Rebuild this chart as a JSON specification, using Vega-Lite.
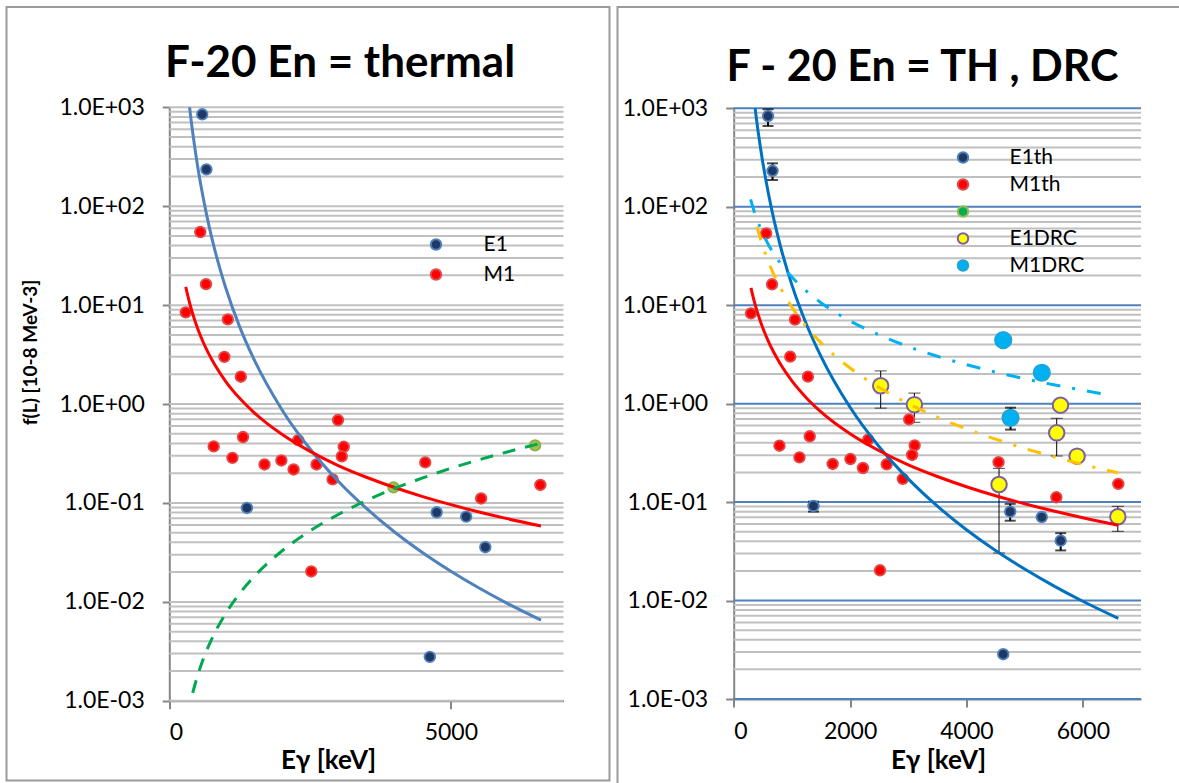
{
  "$schema": "https://vega.github.io/schema/vega-lite/v6.json",
  "background": "white",
  "padding": {"left": 5.5, "top": 6, "right": 0, "bottom": 0},
  "spacing": 6,
  "config": {
    "font": "Lato, 'DejaVu Sans'",
    "view": {"stroke": "#9b9b9b", "strokeWidth": 2},
    "axis": {
      "labelFont": "Lato, 'DejaVu Sans'",
      "titleFont": "Lato, 'DejaVu Sans'",
      "labelColor": "#000000",
      "titleColor": "#000000",
      "domainColor": "#868686",
      "tickColor": "#868686",
      "domainWidth": 2,
      "tickWidth": 2,
      "grid": false,
      "labelFontSize": 23,
      "titleFontWeight": "bold"
    },
    "legend": {
      "labelFont": "Lato, 'DejaVu Sans'",
      "labelFontSize": 20,
      "labelColor": "#000000",
      "symbolType": "circle",
      "symbolSize": 100,
      "symbolStrokeWidth": 2
    },
    "title": {
      "font": "Lato, 'DejaVu Sans'",
      "fontSize": 44,
      "fontWeight": "bold",
      "color": "#000000",
      "anchor": "middle",
      "frame": "group"
    }
  },
  "datasets": {
    "grid": [
      {"v": 0.001, "major": true}, {"v": 0.002, "major": false}, {"v": 0.003, "major": false}, {"v": 0.004, "major": false}, {"v": 0.005, "major": false}, {"v": 0.006, "major": false}, {"v": 0.007, "major": false}, {"v": 0.008, "major": false}, {"v": 0.009, "major": false},
      {"v": 0.01, "major": true}, {"v": 0.02, "major": false}, {"v": 0.03, "major": false}, {"v": 0.04, "major": false}, {"v": 0.05, "major": false}, {"v": 0.06, "major": false}, {"v": 0.07, "major": false}, {"v": 0.08, "major": false}, {"v": 0.09, "major": false},
      {"v": 0.1, "major": true}, {"v": 0.2, "major": false}, {"v": 0.3, "major": false}, {"v": 0.4, "major": false}, {"v": 0.5, "major": false}, {"v": 0.6, "major": false}, {"v": 0.7, "major": false}, {"v": 0.8, "major": false}, {"v": 0.9, "major": false},
      {"v": 1, "major": true}, {"v": 2, "major": false}, {"v": 3, "major": false}, {"v": 4, "major": false}, {"v": 5, "major": false}, {"v": 6, "major": false}, {"v": 7, "major": false}, {"v": 8, "major": false}, {"v": 9, "major": false},
      {"v": 10, "major": true}, {"v": 20, "major": false}, {"v": 30, "major": false}, {"v": 40, "major": false}, {"v": 50, "major": false}, {"v": 60, "major": false}, {"v": 70, "major": false}, {"v": 80, "major": false}, {"v": 90, "major": false},
      {"v": 100, "major": true}, {"v": 200, "major": false}, {"v": 300, "major": false}, {"v": 400, "major": false}, {"v": 500, "major": false}, {"v": 600, "major": false}, {"v": 700, "major": false}, {"v": 800, "major": false}, {"v": 900, "major": false},
      {"v": 1000, "major": true}
    ],
    "thL": [
      {"E": 585, "f": 850, "s": "E1"}, {"E": 659, "f": 236, "s": "E1"}, {"E": 1379, "f": 0.089, "s": "E1"},
      {"E": 4748, "f": 0.0805, "s": "E1"}, {"E": 5272, "f": 0.0728, "s": "E1"}, {"E": 5612, "f": 0.0357, "s": "E1"},
      {"E": 4626, "f": 0.00278, "s": "E1"},
      {"E": 292, "f": 8.45, "s": "M1"}, {"E": 550, "f": 54.8, "s": "M1"}, {"E": 652, "f": 16.3, "s": "M1"},
      {"E": 1039, "f": 7.18, "s": "M1"}, {"E": 978, "f": 3.0, "s": "M1"}, {"E": 1270, "f": 1.89, "s": "M1"},
      {"E": 788, "f": 0.373, "s": "M1"}, {"E": 1309, "f": 0.464, "s": "M1"}, {"E": 1121, "f": 0.286, "s": "M1"},
      {"E": 1691, "f": 0.245, "s": "M1"}, {"E": 1990, "f": 0.269, "s": "M1"}, {"E": 2207, "f": 0.218, "s": "M1"},
      {"E": 2289, "f": 0.432, "s": "M1"}, {"E": 2615, "f": 0.245, "s": "M1"}, {"E": 2900, "f": 0.173, "s": "M1"},
      {"E": 2996, "f": 0.689, "s": "M1"}, {"E": 3098, "f": 0.37, "s": "M1"}, {"E": 3063, "f": 0.296, "s": "M1"},
      {"E": 2521, "f": 0.0203, "s": "M1"}, {"E": 4545, "f": 0.257, "s": "M1"}, {"E": 5537, "f": 0.111, "s": "M1"},
      {"E": 6589, "f": 0.152, "s": "M1"}
    ],
    "greenL": [
      {"E": 3981, "f": 0.1436}, {"E": 6495, "f": 0.382}
    ],
    "blueL": [
      {"E": 360, "f": 1000}, {"E": 380, "f": 801}, {"E": 400, "f": 649}, {"E": 450, "f": 400}, {"E": 500, "f": 260},
      {"E": 550, "f": 176}, {"E": 600, "f": 123}, {"E": 700, "f": 65.2}, {"E": 800, "f": 37.7}, {"E": 900, "f": 23.3},
      {"E": 1000, "f": 15.1}, {"E": 1250, "f": 6.03}, {"E": 1500, "f": 2.86}, {"E": 2000, "f": 0.877}, {"E": 2500, "f": 0.351},
      {"E": 3000, "f": 0.166}, {"E": 3500, "f": 0.0882}, {"E": 4000, "f": 0.0509}, {"E": 4500, "f": 0.0314},
      {"E": 5000, "f": 0.0204}, {"E": 5500, "f": 0.0138}, {"E": 6000, "f": 0.00966}, {"E": 6600, "f": 0.00654}
    ],
    "redL": [
      {"E": 292, "f": 15.3}, {"E": 350, "f": 11.1}, {"E": 400, "f": 8.75}, {"E": 500, "f": 5.87}, {"E": 600, "f": 4.24},
      {"E": 800, "f": 2.54}, {"E": 1000, "f": 1.70}, {"E": 1250, "f": 1.143}, {"E": 1500, "f": 0.825}, {"E": 2000, "f": 0.494},
      {"E": 2500, "f": 0.332}, {"E": 3000, "f": 0.239}, {"E": 3500, "f": 0.182}, {"E": 4000, "f": 0.1433}, {"E": 4500, "f": 0.116},
      {"E": 5000, "f": 0.0961}, {"E": 5500, "f": 0.0811}, {"E": 6000, "f": 0.0694}, {"E": 6600, "f": 0.0585}
    ],
    "greenLineL": [
      {"E": 415, "f": 0.0012}, {"E": 500, "f": 0.00178}, {"E": 600, "f": 0.00261}, {"E": 800, "f": 0.00477}, {"E": 1000, "f": 0.00762},
      {"E": 1250, "f": 0.01218}, {"E": 1500, "f": 0.01786}, {"E": 2000, "f": 0.0327}, {"E": 2500, "f": 0.0522}, {"E": 3000, "f": 0.0765},
      {"E": 3500, "f": 0.1058}, {"E": 4000, "f": 0.140}, {"E": 4500, "f": 0.179}, {"E": 5000, "f": 0.224}, {"E": 5500, "f": 0.273},
      {"E": 6000, "f": 0.328}, {"E": 6600, "f": 0.401}
    ],
    "thR": [
      {"E": 590, "f": 835, "s": "E1th"}, {"E": 667, "f": 232, "s": "E1th"}, {"E": 1371, "f": 0.0914, "s": "E1th"},
      {"E": 4752, "f": 0.080, "s": "E1th"}, {"E": 5295, "f": 0.0705, "s": "E1th"}, {"E": 5620, "f": 0.0406, "s": "E1th"},
      {"E": 4632, "f": 0.00285, "s": "E1th"},
      {"E": 297, "f": 8.27, "s": "M1th"}, {"E": 558, "f": 53.7, "s": "M1th"}, {"E": 659, "f": 16.3, "s": "M1th"},
      {"E": 1053, "f": 7.13, "s": "M1th"}, {"E": 971, "f": 3.0, "s": "M1th"}, {"E": 1276, "f": 1.88, "s": "M1th"},
      {"E": 787, "f": 0.374, "s": "M1th"}, {"E": 1307, "f": 0.466, "s": "M1th"}, {"E": 1130, "f": 0.285, "s": "M1th"},
      {"E": 1701, "f": 0.244, "s": "M1th"}, {"E": 2006, "f": 0.274, "s": "M1th"}, {"E": 2221, "f": 0.222, "s": "M1th"},
      {"E": 2310, "f": 0.43, "s": "M1th"}, {"E": 2629, "f": 0.242, "s": "M1th"}, {"E": 2907, "f": 0.172, "s": "M1th"},
      {"E": 3015, "f": 0.693, "s": "M1th"}, {"E": 3110, "f": 0.377, "s": "M1th"}, {"E": 3066, "f": 0.301, "s": "M1th"},
      {"E": 2514, "f": 0.0203, "s": "M1th"}, {"E": 4552, "f": 0.254, "s": "M1th"}, {"E": 5545, "f": 0.112, "s": "M1th"},
      {"E": 6610, "f": 0.153, "s": "M1th"}
    ],
    "e1drc": [
      {"E": 2526, "f": 1.52, "s": "E1DRC"}, {"E": 3105, "f": 0.977, "s": "E1DRC"}, {"E": 5616, "f": 0.965, "s": "E1DRC"},
      {"E": 5551, "f": 0.505, "s": "E1DRC"}, {"E": 5902, "f": 0.293, "s": "E1DRC"}, {"E": 4560, "f": 0.151, "s": "E1DRC"},
      {"E": 6602, "f": 0.071, "s": "E1DRC"}
    ],
    "m1drc": [
      {"E": 4632, "f": 4.42, "s": "M1DRC"}, {"E": 5295, "f": 2.06, "s": "M1DRC"}, {"E": 4758, "f": 0.718, "s": "M1DRC"}
    ],
    "errThick": [
      {"E": 590, "lo": 661, "hi": 977}, {"E": 667, "lo": 187, "hi": 276}, {"E": 1371, "lo": 0.080, "hi": 0.101},
      {"E": 4752, "lo": 0.0647, "hi": 0.096}, {"E": 5620, "lo": 0.0323, "hi": 0.0484}, {"E": 4758, "lo": 0.545, "hi": 0.91}
    ],
    "errThin": [
      {"E": 2526, "lo": 0.90, "hi": 2.15}, {"E": 3105, "lo": 0.646, "hi": 1.28}, {"E": 5551, "lo": 0.294, "hi": 0.71},
      {"E": 4560, "lo": 0.0304, "hi": 0.22}, {"E": 6602, "lo": 0.0505, "hi": 0.0906}
    ],
    "blueR": [
      {"E": 368, "f": 1000}, {"E": 390, "f": 787}, {"E": 420, "f": 579}, {"E": 460, "f": 398}, {"E": 500, "f": 282},
      {"E": 600, "f": 133}, {"E": 700, "f": 70.2}, {"E": 800, "f": 40.4}, {"E": 1000, "f": 16.1}, {"E": 1250, "f": 6.40},
      {"E": 1500, "f": 3.02}, {"E": 2000, "f": 0.918}, {"E": 2500, "f": 0.365}, {"E": 3000, "f": 0.172}, {"E": 3500, "f": 0.0910},
      {"E": 4000, "f": 0.0524}, {"E": 4500, "f": 0.0322}, {"E": 5000, "f": 0.0209}, {"E": 5500, "f": 0.0141},
      {"E": 6000, "f": 0.00983}, {"E": 6610, "f": 0.00659}
    ],
    "redR": [
      {"E": 297, "f": 15.0}, {"E": 350, "f": 11.1}, {"E": 400, "f": 8.75}, {"E": 500, "f": 5.87}, {"E": 600, "f": 4.24},
      {"E": 800, "f": 2.54}, {"E": 1000, "f": 1.70}, {"E": 1250, "f": 1.143}, {"E": 1500, "f": 0.825}, {"E": 2000, "f": 0.494},
      {"E": 2500, "f": 0.332}, {"E": 3000, "f": 0.239}, {"E": 3500, "f": 0.182}, {"E": 4000, "f": 0.1433}, {"E": 4500, "f": 0.116},
      {"E": 5000, "f": 0.0961}, {"E": 5500, "f": 0.0811}, {"E": 6000, "f": 0.0694}, {"E": 6610, "f": 0.0583}
    ],
    "cyanR": [
      {"E": 291, "f": 119}, {"E": 350, "f": 90.7}, {"E": 400, "f": 74.5}, {"E": 500, "f": 53.6}, {"E": 600, "f": 40.9},
      {"E": 800, "f": 26.8}, {"E": 1000, "f": 19.3}, {"E": 1250, "f": 13.9}, {"E": 1500, "f": 10.6}, {"E": 2000, "f": 6.92},
      {"E": 2500, "f": 4.98}, {"E": 3000, "f": 3.80}, {"E": 3500, "f": 3.03}, {"E": 4000, "f": 2.49}, {"E": 4500, "f": 2.09},
      {"E": 5000, "f": 1.79}, {"E": 5500, "f": 1.555}, {"E": 6000, "f": 1.37}, {"E": 6368, "f": 1.25}
    ],
    "orangeR": [
      {"E": 400, "f": 62.7}, {"E": 450, "f": 49.2}, {"E": 500, "f": 39.7}, {"E": 600, "f": 27.3}, {"E": 800, "f": 15.1},
      {"E": 1000, "f": 9.56}, {"E": 1250, "f": 6.05}, {"E": 1500, "f": 4.16}, {"E": 2000, "f": 2.30}, {"E": 2500, "f": 1.456},
      {"E": 3000, "f": 1.002}, {"E": 3500, "f": 0.730}, {"E": 4000, "f": 0.555}, {"E": 4500, "f": 0.436}, {"E": 5000, "f": 0.351},
      {"E": 5500, "f": 0.289}, {"E": 6000, "f": 0.241}, {"E": 6610, "f": 0.198}
    ]
  },
  "resolve": {
    "scale": {"x": "independent", "y": "independent", "fill": "independent", "stroke": "independent"},
    "axis": {"x": "independent", "y": "independent"},
    "legend": {"fill": "independent", "stroke": "independent"}
  },
  "hconcat": [
    {
      "width": 603,
      "height": 773.5,
      "title": {"text": "F-20 En = thermal", "offset": -79, "dx": 32},
      "layer": [
        {
          "data": {"name": "grid"},
          "mark": {"type": "rule", "strokeWidth": 2, "color": "#c0c0c0"},
          "encoding": {
            "y": {"field": "v", "type": "quantitative", "title": "f(L) [10-8 MeV-3]"},
            "x": {"datum": 0, "type": "quantitative", "title": "Eγ [keV]"},
            "x2": {"datum": 7000}
          }
        },
        {
          "data": {"name": "thL"},
          "mark": {"type": "point", "filled": true, "opacity": 1, "size": 112, "strokeWidth": 1.8},
          "encoding": {
            "x": {
              "field": "E", "type": "quantitative", "title": "Eγ [keV]",
              "scale": {"domain": [0, 7000], "range": [162.8, 557], "nice": false, "zero": false},
              "axis": {
                "values": [0, 5000], "format": "d", "offset": -79.7, "tickSize": 8, "labelPadding": 13,
                "titleFontSize": 26, "titleX": 321.5, "titleY": 68, "titleBaseline": "alphabetic", "titleAlign": "center"
              }
            },
            "y": {
              "field": "f", "type": "quantitative", "title": "f(L) [10-8 MeV-3]",
              "scale": {"type": "log", "domain": [0.001, 1000], "range": [693.8, 100.3], "nice": false},
              "axis": {
                "values": [0.001, 0.01, 0.1, 1, 10, 100, 1000],
                "labelExpr": "'1.0E' + (datum.value >= 1 ? '+' : '-') + '0' + abs(round(log(datum.value) / LN10))",
                "offset": -162.8, "tickSize": 7, "labelPadding": 18,
                "titleFontSize": 19, "titleAngle": -90, "titleX": -139.3, "titleY": 345,
                "titleAlign": "center", "titleBaseline": "middle"
              }
            },
            "fill": {
              "field": "s", "type": "nominal",
              "scale": {"domain": ["E1", "M1"], "range": ["#1f3864", "#ff0000"]},
              "legend": {"orient": "none", "legendX": 419, "legendY": 227, "title": null, "padding": 0, "labelOffset": 37, "rowPadding": 8, "labelFontSize": 21, "symbolSize": 110}
            },
            "stroke": {
              "field": "s", "type": "nominal",
              "scale": {"domain": ["E1", "M1"], "range": ["#4f81bd", "#e24a4a"]},
              "legend": {"orient": "none", "legendX": 419, "legendY": 227, "title": null, "padding": 0, "labelOffset": 37, "rowPadding": 8, "labelFontSize": 21, "symbolSize": 110}
            }
          }
        },
        {
          "data": {"name": "greenL"},
          "mark": {"type": "point", "filled": true, "opacity": 1, "size": 112, "strokeWidth": 1.8, "fill": "#9cc24e", "stroke": "#8cb048"},
          "encoding": {
            "x": {"field": "E", "type": "quantitative", "title": "Eγ [keV]"},
            "y": {"field": "f", "type": "quantitative", "title": "f(L) [10-8 MeV-3]"}
          }
        },
        {
          "data": {"name": "blueL"},
          "mark": {"type": "line", "color": "#4f81bd", "strokeWidth": 3, "interpolate": "monotone"},
          "encoding": {
            "x": {"field": "E", "type": "quantitative", "title": "Eγ [keV]"},
            "y": {"field": "f", "type": "quantitative", "title": "f(L) [10-8 MeV-3]"}
          }
        },
        {
          "data": {"name": "redL"},
          "mark": {"type": "line", "color": "#ff0000", "strokeWidth": 3, "interpolate": "monotone"},
          "encoding": {
            "x": {"field": "E", "type": "quantitative", "title": "Eγ [keV]"},
            "y": {"field": "f", "type": "quantitative", "title": "f(L) [10-8 MeV-3]"}
          }
        },
        {
          "data": {"name": "greenLineL"},
          "mark": {"type": "line", "color": "#00a84f", "strokeWidth": 3, "strokeDash": [13, 10], "interpolate": "monotone"},
          "encoding": {
            "x": {"field": "E", "type": "quantitative", "title": "Eγ [keV]"},
            "y": {"field": "f", "type": "quantitative", "title": "f(L) [10-8 MeV-3]"}
          }
        }
      ]
    },
    {
      "width": 570,
      "height": 790,
      "title": {"text": "F - 20 En = TH , DRC", "offset": -83, "dx": 20, "fontSize": 43},
      "layer": [
        {
          "data": {"name": "grid"},
          "mark": {"type": "rule", "strokeWidth": 2},
          "encoding": {
            "y": {"field": "v", "type": "quantitative", "title": null},
            "x": {"datum": 0, "type": "quantitative", "title": "Eγ [keV]"},
            "x2": {"datum": 7000},
            "stroke": {"condition": {"test": "datum.major", "value": "#4f81bd"}, "value": "#c0c0c0"}
          }
        },
        {
          "data": {"name": "errThick"},
          "mark": {"type": "errorbar", "color": "#000000", "thickness": 2, "ticks": {"size": 11, "thickness": 2}},
          "encoding": {
            "x": {"field": "E", "type": "quantitative", "title": "Eγ [keV]"},
            "y": {"field": "lo", "type": "quantitative", "title": null},
            "y2": {"field": "hi"}
          }
        },
        {
          "data": {"name": "errThin"},
          "mark": {"type": "errorbar", "color": "#000000", "thickness": 1, "ticks": {"size": 12, "thickness": 1}},
          "encoding": {
            "x": {"field": "E", "type": "quantitative", "title": "Eγ [keV]"},
            "y": {"field": "lo", "type": "quantitative", "title": null},
            "y2": {"field": "hi"}
          }
        },
        {
          "data": {"name": "thR"},
          "mark": {"type": "point", "filled": true, "opacity": 1, "size": 112, "strokeWidth": 1.8},
          "encoding": {
            "x": {
              "field": "E", "type": "quantitative", "title": "Eγ [keV]",
              "scale": {"domain": [0, 7000], "range": [116.2, 523.5], "nice": false, "zero": false},
              "axis": {
                "values": [0, 2000, 4000, 6000], "format": "d", "offset": -98, "tickSize": 8, "labelPadding": 13,
                "titleFontSize": 26, "titleX": 320.5, "titleY": 69, "titleBaseline": "alphabetic", "titleAlign": "center"
              }
            },
            "y": {
              "field": "f", "type": "quantitative", "title": null,
              "scale": {"type": "log", "domain": [0.001, 1000], "range": [692, 101.3], "nice": false},
              "axis": {
                "values": [0.001, 0.01, 0.1, 1, 10, 100, 1000],
                "labelExpr": "'1.0E' + (datum.value >= 1 ? '+' : '-') + '0' + abs(round(log(datum.value) / LN10))",
                "offset": -116.2, "tickSize": 8, "labelPadding": 18
              }
            },
            "fill": {
              "field": "s", "type": "nominal",
              "scale": {"domain": ["E1th", "M1th", " ", "E1DRC", "M1DRC"], "range": ["#1f3864", "#ff0000", "#00b050", "#ffff00", "#00b0f0"]},
              "legend": {"orient": "none", "legendX": 335, "legendY": 140, "title": null, "padding": 0, "labelOffset": 36, "rowPadding": 5, "labelFontSize": 21, "symbolSize": 110}
            },
            "stroke": {
              "field": "s", "type": "nominal",
              "scale": {"domain": ["E1th", "M1th", " ", "E1DRC", "M1DRC"], "range": ["#4f81bd", "#e24a4a", "#9bbb59", "#7d5fa0", "#25a3d3"]},
              "legend": {"orient": "none", "legendX": 335, "legendY": 140, "title": null, "padding": 0, "labelOffset": 36, "rowPadding": 5, "labelFontSize": 21, "symbolSize": 110}
            }
          }
        },
        {
          "data": {"name": "e1drc"},
          "mark": {"type": "point", "filled": true, "opacity": 1, "size": 240, "strokeWidth": 2},
          "encoding": {
            "x": {"field": "E", "type": "quantitative", "title": "Eγ [keV]"},
            "y": {"field": "f", "type": "quantitative", "title": null},
            "fill": {"field": "s", "type": "nominal"},
            "stroke": {"field": "s", "type": "nominal"}
          }
        },
        {
          "data": {"name": "m1drc"},
          "mark": {"type": "point", "filled": true, "opacity": 1, "size": 280, "strokeWidth": 1.5},
          "encoding": {
            "x": {"field": "E", "type": "quantitative", "title": "Eγ [keV]"},
            "y": {"field": "f", "type": "quantitative", "title": null},
            "fill": {"field": "s", "type": "nominal"},
            "stroke": {"field": "s", "type": "nominal"}
          }
        },
        {
          "data": {"name": "blueR"},
          "mark": {"type": "line", "color": "#0070c0", "strokeWidth": 3, "interpolate": "monotone"},
          "encoding": {
            "x": {"field": "E", "type": "quantitative", "title": "Eγ [keV]"},
            "y": {"field": "f", "type": "quantitative", "title": null}
          }
        },
        {
          "data": {"name": "redR"},
          "mark": {"type": "line", "color": "#ff0000", "strokeWidth": 3, "interpolate": "monotone"},
          "encoding": {
            "x": {"field": "E", "type": "quantitative", "title": "Eγ [keV]"},
            "y": {"field": "f", "type": "quantitative", "title": null}
          }
        },
        {
          "data": {"name": "cyanR"},
          "mark": {"type": "line", "color": "#00b0f0", "strokeWidth": 3, "strokeDash": [14, 12, 3, 12], "interpolate": "monotone"},
          "encoding": {
            "x": {"field": "E", "type": "quantitative", "title": "Eγ [keV]"},
            "y": {"field": "f", "type": "quantitative", "title": null}
          }
        },
        {
          "data": {"name": "orangeR"},
          "mark": {"type": "line", "color": "#ffc000", "strokeWidth": 3, "strokeDash": [14, 12, 3, 12], "interpolate": "monotone"},
          "encoding": {
            "x": {"field": "E", "type": "quantitative", "title": "Eγ [keV]"},
            "y": {"field": "f", "type": "quantitative", "title": null}
          }
        }
      ]
    }
  ]
}
